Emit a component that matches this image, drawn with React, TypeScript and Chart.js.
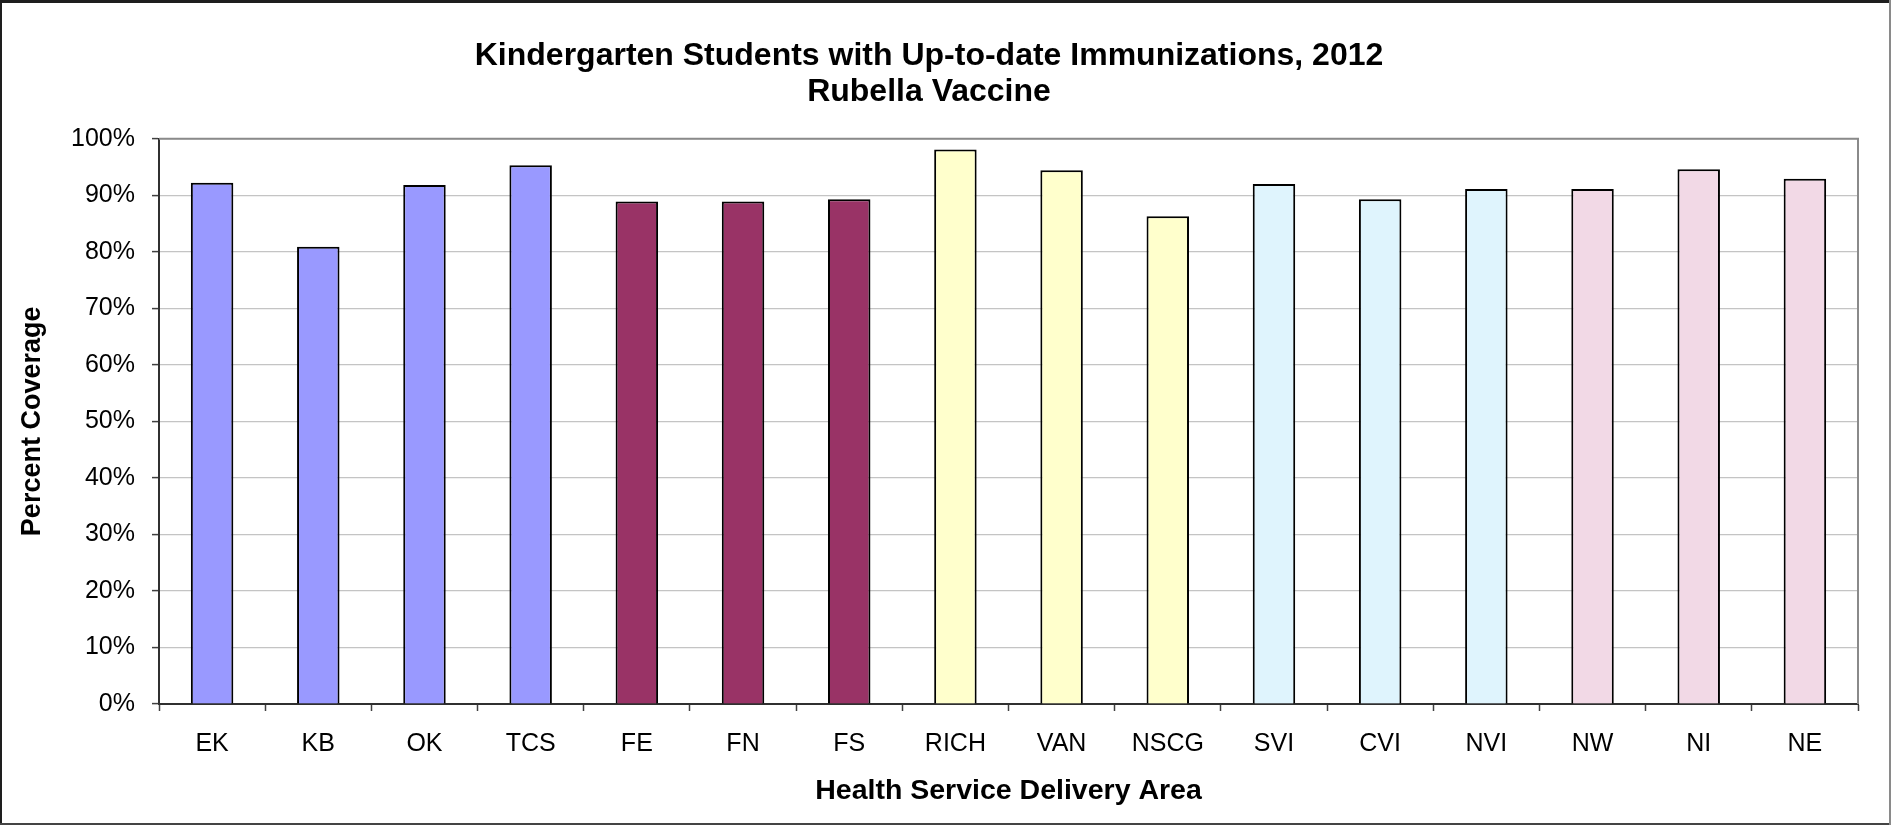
import React, { useEffect, useRef } from "react";
import { Chart, registerables } from "chart.js";

Chart.register(...registerables);

// ---- data ----
const categories = ["EK", "KB", "OK", "TCS", "FE", "FN", "FS", "RICH", "VAN", "NSCG", "SVI", "CVI", "NVI", "NW", "NI", "NE"];
const healthAuthority = ["IH", "IH", "IH", "IH", "FH", "FH", "FH", "VCH", "VCH", "VCH", "VIHA", "VIHA", "VIHA", "NH", "NH", "NH"];
const coverage = [92.2, 80.9, 91.8, 95.3, 88.9, 88.9, 89.3, 98.1, 94.4, 86.3, 92.0, 89.3, 91.1, 91.1, 94.6, 92.9];
const yTickValues = [0, 10, 20, 30, 40, 50, 60, 70, 80, 90, 100];
const titleLines = ["Kindergarten Students with Up-to-date Immunizations, 2012", "Rubella Vaccine"];
const xTitle = "Health Service Delivery Area";
const yTitle = "Percent Coverage";

// ---- styles ----
const authorityColors: Record<string, string> = {
  IH: "#9999FF",
  FH: "#993366",
  VCH: "#FFFFCC",
  VIHA: "#DFF4FD",
  NH: "#F2D9E6",
};
const FONT = '"Liberation Sans", Arial, Helvetica, sans-serif';
const W = 1891;
const H = 825;

const framePlugin = {
  id: "frame",
  afterDraw(chart: any) {
    const { ctx, chartArea } = chart;
    ctx.save();
    // plot area top & right border (grey)
    ctx.strokeStyle = "#8a8a8a";
    ctx.lineWidth = 2;
    ctx.beginPath();
    ctx.moveTo(chartArea.left, chartArea.top);
    ctx.lineTo(chartArea.right, chartArea.top);
    ctx.lineTo(chartArea.right, chartArea.bottom);
    ctx.stroke();
    // outer chart border
    ctx.fillStyle = "#1e1e1e";
    ctx.fillRect(0, 0, W, 3);
    ctx.fillRect(0, 0, 2, H);
    ctx.fillStyle = "#444";
    ctx.fillRect(0, H - 2, W, 2);
    ctx.fillStyle = "#8a8a8a";
    ctx.fillRect(W - 2, 0, 2, H);
    ctx.restore();
  },
};

export default function App() {
  const canvasRef = useRef<HTMLCanvasElement | null>(null);

  useEffect(() => {
    if (!canvasRef.current) return;
    const chart = new Chart(canvasRef.current, {
      type: "bar",
      data: {
        labels: categories,
        datasets: [
          {
            data: coverage,
            backgroundColor: healthAuthority.map((a) => authorityColors[a]),
            borderColor: "#000000",
            borderWidth: 2,
            barPercentage: 0.4,
            categoryPercentage: 1,
          },
        ],
      },
      options: {
        animation: false,
        responsive: false,
        maintainAspectRatio: false,
        devicePixelRatio: 1,
        layout: { padding: { left: 0, right: 33, top: 0, bottom: 0 } },
        plugins: {
          legend: { display: false },
          tooltip: { enabled: false },
          title: {
            display: true,
            text: titleLines,
            color: "#000",
            font: { family: FONT, size: 32, weight: "bold", lineHeight: 1.12 },
            padding: { top: 38, bottom: 29 },
          },
        },
        scales: {
          x: {
            grid: {
              display: true,
              drawOnChartArea: false,
              drawTicks: true,
              tickLength: 7,
              offset: true,
              tickColor: "#404040",
              tickWidth: 1.5,
            },
            border: { display: true, color: "#303030", width: 2 },
            ticks: {
              color: "#000",
              font: { family: FONT, size: 25 },
              padding: 18,
              maxRotation: 0,
              autoSkip: false,
            },
            title: {
              display: true,
              text: xTitle,
              color: "#000",
              font: { family: FONT, size: 28.5, weight: "bold", lineHeight: 1.2 },
              padding: { top: 0, bottom: 17 },
            },
            afterFit: (s: any) => {
              s.height = 121;
            },
          },
          y: {
            min: 0,
            max: 100,
            afterBuildTicks: (s: any) => {
              s.ticks = yTickValues.map((v) => ({ value: v }));
            },
            ticks: {
              callback: (v: any) => v + "%",
              color: "#000",
              font: { family: FONT, size: 25 },
              padding: 17,
            },
            grid: {
              color: "#C4C4C4",
              lineWidth: 1.2,
              drawTicks: true,
              tickLength: 7,
              tickColor: "#404040",
              tickWidth: 1.5,
            },
            border: { display: true, color: "#303030", width: 2 },
            title: {
              display: true,
              text: yTitle,
              color: "#000",
              font: { family: FONT, size: 27, weight: "bold", lineHeight: 1.2 },
              padding: { top: 16, bottom: 0 },
            },
            afterFit: (s: any) => {
              s.width = 159;
            },
          },
        },
      },
      plugins: [framePlugin],
    });
    return () => chart.destroy();
  }, []);

  return (
    <div style={{ position: "absolute", left: 0, top: 0, width: W, height: H, background: "#fff" }}>
      <canvas ref={canvasRef} width={W} height={H} style={{ display: "block", width: W, height: H }} />
    </div>
  );
}
